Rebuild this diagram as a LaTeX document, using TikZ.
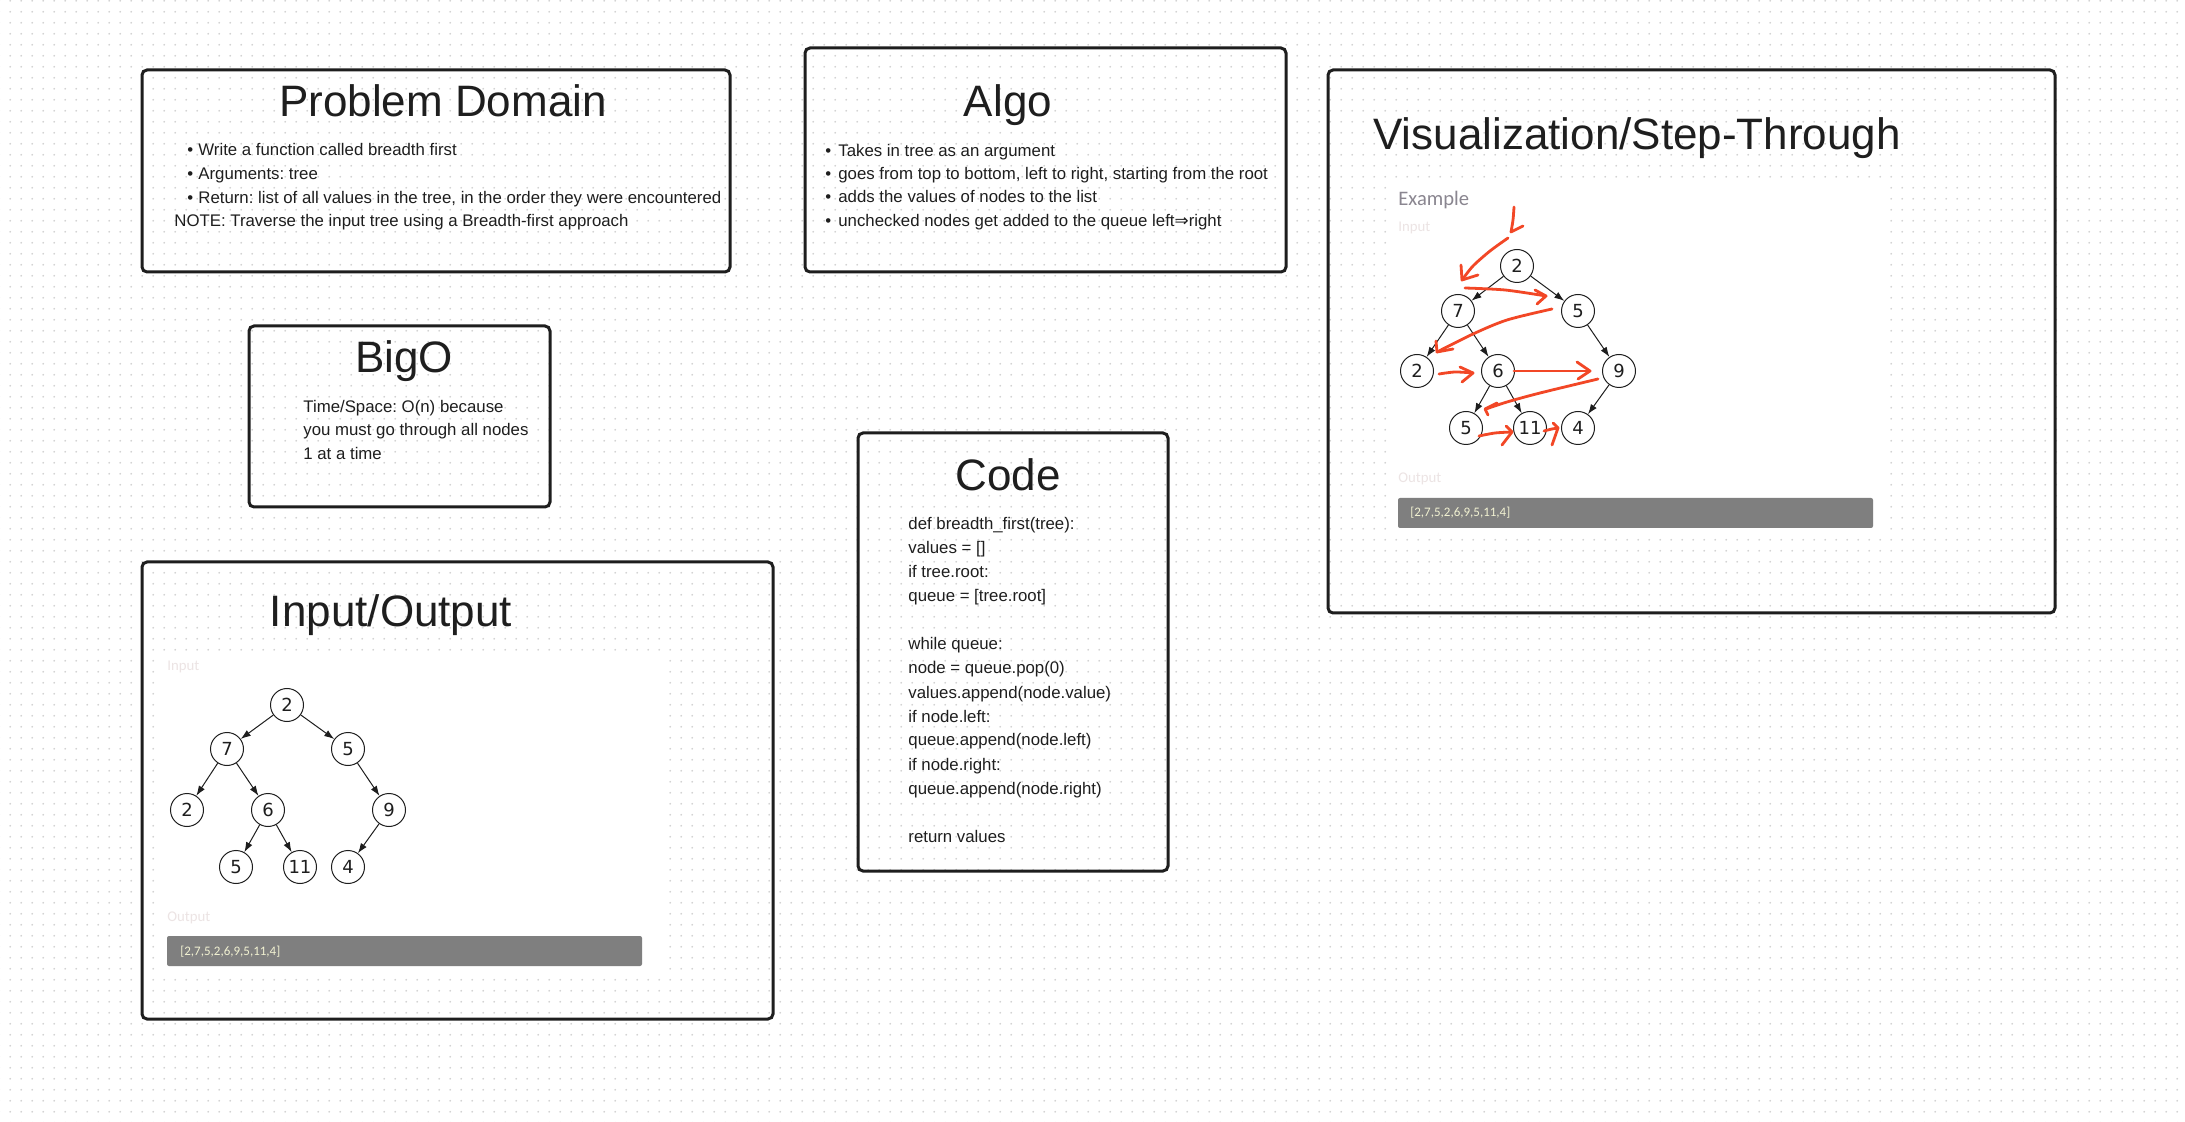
\documentclass[tikz,border=0pt]{standalone}
\usepackage{fontspec}
\setmainfont{Liberation Sans}
\newfontfamily\dv{DejaVu Sans}
\newfontfamily\cb{Carlito}
\usetikzlibrary{arrows.meta,patterns.meta}
\definecolor{ink}{HTML}{1E1E1E}
\definecolor{redpen}{HTML}{F24726}
\definecolor{dotc}{HTML}{CFCFCF}
\definecolor{barc}{HTML}{7F7F7F}
\definecolor{faint}{HTML}{ECE4E4}
\definecolor{exc}{HTML}{8A8690}
\definecolor{bartext}{HTML}{F2F2D2}
\frenchspacing
\begin{document}
\begin{tikzpicture}[x=0.5pt,y=-0.5pt,
 card/.style={draw=ink,line width=1.5pt,rounded corners=2.5pt},
 ttl/.style={inner sep=0,anchor=base,font=\fontsize{22}{26}\selectfont,text=ink},
 txt/.style={inner sep=0,anchor=base west,font=\fontsize{8.4}{12}\selectfont,text=ink},
 tn/.style={circle,draw=ink,line width=0.5pt,minimum size=16.5pt,inner sep=0,font=\dv\fontsize{9}{10}\selectfont,text=ink},
 te/.style={-{Latex[length=5pt,width=3.5pt]},line width=0.5pt,draw=ink},
 rp/.style={draw=redpen,line width=1.4pt,line cap=round,line join=round},
 lbl/.style={inner sep=0,anchor=base west,font=\cb\fontsize{7.4}{9}\selectfont,text=faint},
 bar/.style={fill=barc,rounded corners=1pt},
 bartx/.style={inner sep=0,anchor=west,font=\cb\fontsize{6.5}{8}\selectfont,text=bartext},
]
\useasboundingbox (0,0) rectangle (2185,1122);
\fill[white] (0,0) rectangle (2185,1122);
\fill[pattern={Dots[radius=0.5pt,distance=5.35pt]},pattern color=dotc] (0,0) rectangle (2185,1122);
% white image areas
\fill[white] (162,658) rectangle (662,972);
\fill[white] (1394,180) rectangle (1886,538);
% cards
\draw[card] (142,70) rectangle (730,272);
\draw[card] (805,48) rectangle (1286,272);
\draw[card] (249,326) rectangle (550,507);
\draw[card] (142,562) rectangle (773,1019);
\draw[card] (858,433) rectangle (1168,871);
\draw[card] (1328,70) rectangle (2055,613);
% titles
\node[ttl] (tPD) at (443,117) {Problem Domain};
\node[ttl] (tAlgo) at (1008,117) {Algo};
\node[ttl] (tBig) at (404,373) {BigO};
\node[ttl] (tCode) at (1008,491) {Code};
\node[ttl] (tIO) at (391,627) {Input/Output};
\node[ttl,anchor=base west] (tVis) at (1373,150) {Visualization/Step-Through};
% problem domain
\node[txt] (pb1) at (187,156) {•};
\node[txt] (pt1) at (198,156) {Write a function called breadth first};
\node[txt] (pb2) at (187,180) {•};
\node[txt] (pt2) at (198,180) {Arguments: tree};
\node[txt] (pb3) at (187,204) {•};
\node[txt] (pt3) at (198,204) {Return: list of all values in the tree, in the order they were encountered};
\node[txt] (pt4) at (174,227) {NOTE: Traverse the input tree using a Breadth-first approach};
% algo
\node[txt] (ab1) at (825,157) {•};
\node[txt] (at1) at (838,157) {Takes in tree as an argument};
\node[txt] (ab2) at (825,180) {•};
\node[txt] (at2) at (838,180) {goes from top to bottom, left to right, starting from the root};
\node[txt] (ab3) at (825,203) {•};
\node[txt] (at3) at (838,203) {adds the values of nodes to the list};
\node[txt] (ab4) at (825,227) {•};
\node[txt] (at4) at (838,227) {unchecked nodes get added to the queue left{\dv ⇒}right};
% bigo
\node[txt] (bt1) at (303,413) {Time/Space: O(n) because};
\node[txt] (bt2) at (303,436) {you must go through all nodes};
\node[txt] (bt3) at (303,460) {1 at a time};
% code
\node[txt] (c1) at (908,530) {def breadth\_first(tree):};
\node[txt] (c2) at (908,554) {values = []};
\node[txt] (c3) at (908,578) {if tree.root:};
\node[txt] (c4) at (908,602) {queue = [tree.root]};
\node[txt] (c6) at (908,650) {while queue:};
\node[txt] (c7) at (908,674) {node = queue.pop(0)};
\node[txt] (c8) at (908,698) {values.append(node.value)};
\node[txt] (c9) at (908,722) {if node.left:};
\node[txt] (c10) at (908,746) {queue.append(node.left)};
\node[txt] (c11) at (908,770) {if node.right:};
\node[txt] (c12) at (908,794) {queue.append(node.right)};
\node[txt] (c14) at (908,842) {return values};
% input/output image
\node[lbl] (ioIn) at (167,671) {Input};
\node[tn] (a1) at (287,705) {2};
\node[tn] (a2) at (227,749) {7};
\node[tn] (a3) at (348,749) {5};
\node[tn] (a4) at (187,810) {2};
\node[tn] (a5) at (268,810) {6};
\node[tn] (a6) at (389,810) {9};
\node[tn] (a7) at (236,867) {5};
\node[tn] (a8) at (300,867) {11};
\node[tn] (a9) at (348,867) {4};
\draw[te] (a1) -- (a2);
\draw[te] (a1) -- (a3);
\draw[te] (a2) -- (a4);
\draw[te] (a2) -- (a5);
\draw[te] (a3) -- (a6);
\draw[te] (a5) -- (a7);
\draw[te] (a5) -- (a8);
\draw[te] (a6) -- (a9);
\node[lbl] (ioOut) at (167,921) {Output};
\fill[bar] (167,936) rectangle (642,966);
\node[bartx] (ioRes) at (180,952) {[2,7,5,2,6,9,5,11,4]};
% visualization image
\node[inner sep=0,anchor=base west,font=\cb\fontsize{10.3}{12}\selectfont,text=exc] (vEx) at (1398,206) {Example};
\node[lbl] (vIn) at (1398,232) {Input};
\node[tn] (b1) at (1517,266) {2};
\node[tn] (b2) at (1458,311) {7};
\node[tn] (b3) at (1578,311) {5};
\node[tn] (b4) at (1417,371) {2};
\node[tn] (b5) at (1498,371) {6};
\node[tn] (b6) at (1619,371) {9};
\node[tn] (b7) at (1466,428) {5};
\node[tn] (b8) at (1530,428) {11};
\node[tn] (b9) at (1578,428) {4};
\draw[te] (b1) -- (b2);
\draw[te] (b1) -- (b3);
\draw[te] (b2) -- (b4);
\draw[te] (b2) -- (b5);
\draw[te] (b3) -- (b6);
\draw[te] (b5) -- (b7);
\draw[te] (b5) -- (b8);
\draw[te] (b6) -- (b9);
\node[lbl] (vOut) at (1398,483) {Output};
\fill[bar] (1398,498) rectangle (1873,528);
\node[bartx] (vRes) at (1410,513) {[2,7,5,2,6,9,5,11,4]};
% red hand-drawn arrows
\draw[rp] plot[smooth] coordinates {(1514,207) (1513,220) (1511,232)} -- (1523,226);
\draw[rp] plot[smooth] coordinates {(1508,238) (1490,251) (1473,266) (1462,280)};
\draw[rp] (1461,265) -- (1462,280) -- (1478,275);
\draw[rp] plot[smooth] coordinates {(1465,288) (1505,290) (1546,296)};
\draw[rp] (1535,290) -- (1546,296) -- (1537,304);
\draw[rp] plot[smooth] coordinates {(1552,309) (1507,320) (1473,334) (1437,352)};
\draw[rp] (1436,341) -- (1437,352) -- (1453,349);
\draw[rp] plot[smooth] coordinates {(1439,374) (1455,372) (1473,373)};
\draw[rp] (1460,367) -- (1473,373) -- (1462,382);
\draw[rp] (1514,371) -- (1590,371);
\draw[rp] (1577,362) -- (1590,371) -- (1578,379);
\draw[rp] plot[smooth] coordinates {(1598,379) (1540,393) (1507,402) (1486,409)};
\draw[rp] (1497,403) -- (1485,409) -- (1488,415);
\draw[rp] plot[smooth] coordinates {(1479,436) (1495,433) (1512,432)};
\draw[rp] (1506,426) -- (1512,432) -- (1502,445);
\draw[rp] plot[smooth] coordinates {(1544,431) (1552,429) (1558,428)};
\draw[rp] (1553,423) -- (1558,428) -- (1552,445);
\end{tikzpicture}
\end{document}
